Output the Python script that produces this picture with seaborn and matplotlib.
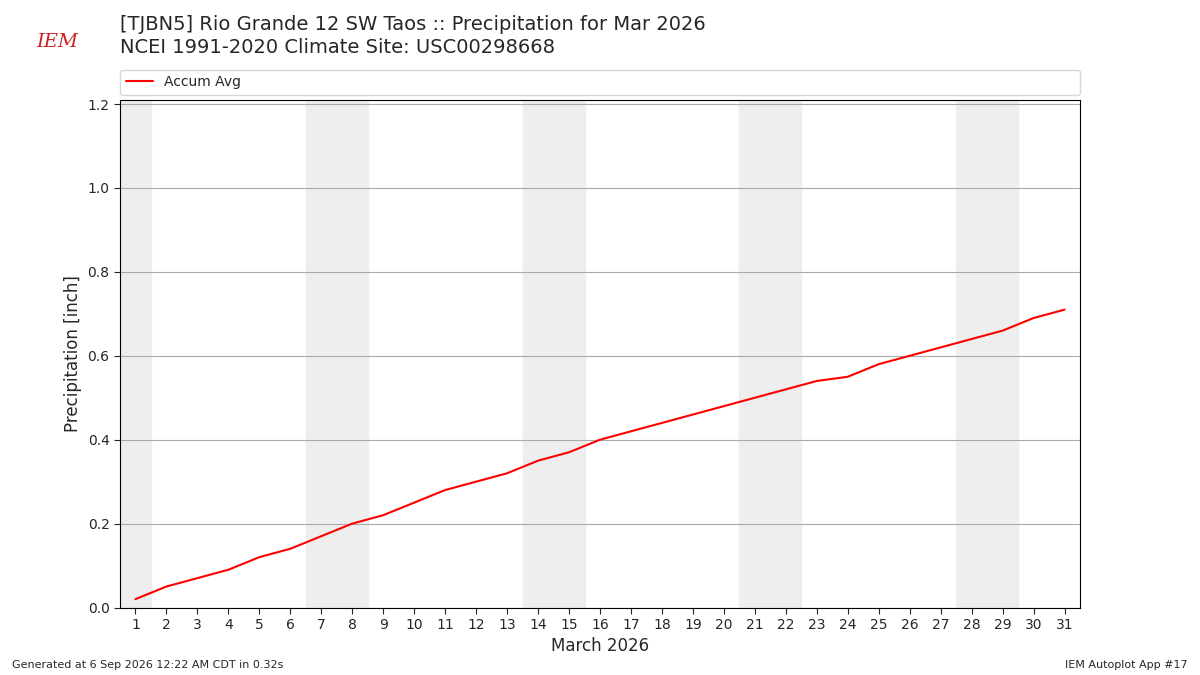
import matplotlib
matplotlib.use("Agg")
import matplotlib.pyplot as plt
import seaborn as sns
import pandas as pd

days = list(range(1, 32))
accum_avg = [0.02, 0.05, 0.07, 0.09, 0.12, 0.14, 0.17, 0.20, 0.22, 0.25,
             0.28, 0.30, 0.32, 0.35, 0.37, 0.40, 0.42, 0.44, 0.46, 0.48,
             0.50, 0.52, 0.54, 0.55, 0.58, 0.60, 0.62, 0.64, 0.66, 0.69, 0.71]
weekend_starts = [0.5, 6.5, 13.5, 20.5, 27.5]
weekend_ends = [1.5, 8.5, 15.5, 22.5, 29.5]

sns.set_style("white")
plt.rcParams['font.family'] = ['DejaVu Sans']
fig = plt.figure(figsize=(12, 6.75), dpi=100)
ax = fig.add_axes([0.1, 0.1, 0.8, 0.752])

for s, e in zip(weekend_starts, weekend_ends):
    ax.axvspan(s, e, color="#eeeeee", zorder=0)

df = pd.DataFrame({"day": days, "avg": accum_avg})
sns.lineplot(data=df, x="day", y="avg", color="red", lw=1.5, ax=ax, label="Accum Avg")
ax.set_xlim(0.5, 31.5)
ax.set_ylim(0, 1.21)
ax.set_xticks(days)
ax.set_yticks([0, 0.2, 0.4, 0.6, 0.8, 1.0, 1.2])
ax.yaxis.grid(True, color="#aaaaaa", lw=0.8)
ax.set_axisbelow(True)
for sp in ax.spines.values():
    sp.set_color("black"); sp.set_linewidth(0.8)
ax.tick_params(axis="both", direction="out", length=4, labelsize=10, left=True, bottom=True)
ax.set_xlabel("March 2026", fontsize=12)
ax.set_ylabel("Precipitation [inch]", fontsize=12)
ax.legend(loc="lower left", bbox_to_anchor=(0, 1.01, 1, 0.05), mode="expand",
          frameon=True, fontsize=10, borderaxespad=0)

fig.text(0.1, 0.95, "[TJBN5] Rio Grande 12 SW Taos :: Precipitation for Mar 2026",
         fontsize=14, va="bottom")
fig.text(0.1, 0.915, "NCEI 1991-2020 Climate Site: USC00298668", fontsize=14, va="bottom")
fig.text(0.03, 0.93, "IEM", fontsize=14, color="#cc2222", style="italic", family="DejaVu Serif")
fig.text(0.01, 0.01, "Generated at 6 Sep 2026 12:22 AM CDT in 0.32s", fontsize=8)
fig.text(0.99, 0.01, "IEM Autoplot App #17", fontsize=8, ha="right")
fig.savefig("out.png", dpi=100)
